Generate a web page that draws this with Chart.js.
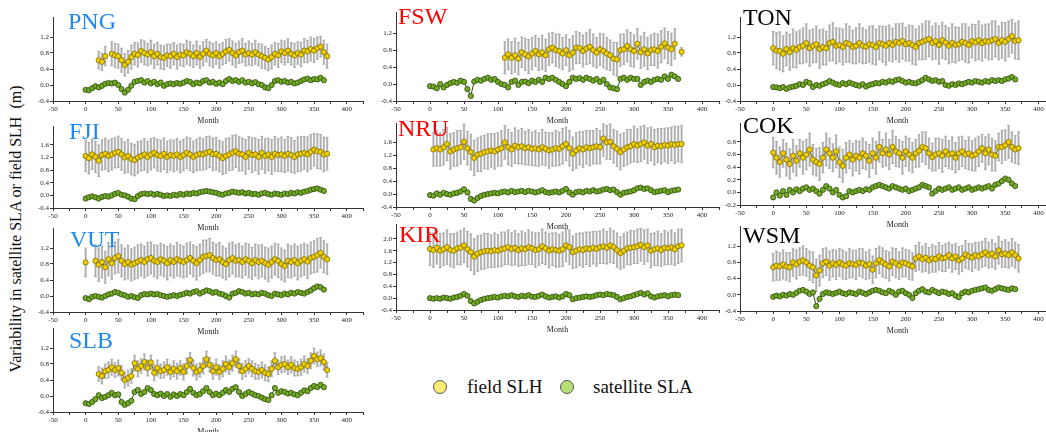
<!DOCTYPE html>
<html>
<head>
<meta charset="utf-8">
<script src="https://cdn.jsdelivr.net/npm/chart.js@4.4.0/dist/chart.umd.min.js"></script>
<style>
  body { margin: 0; background: #fff; }
  #wrap { position: relative; width: 1046px; height: 432px; overflow: hidden; background: #fff; }
  #wrap canvas { position: absolute; }
  .tag { position: absolute; font: 24px/24px 'Liberation Serif', 'Times New Roman', serif; z-index: 2; }
  .ytitle { position: absolute; left: 16px; top: 229px; transform: translate(-50%, -50%) rotate(-90deg);
            font: 16px 'Liberation Serif', 'Times New Roman', serif; white-space: pre; color: #111; }
  .leg { position: absolute; font: 19px/19px 'Liberation Serif', 'Times New Roman', serif; color: #111; }
  .dot { position: absolute; width: 12px; height: 12px; border-radius: 50%; border: 1px solid #555; }
</style>
</head>
<body>
<div id="wrap">
  <div class="ytitle">Variability in satellite SLA or field SLH  (m)</div>
  <div class="dot" style="left:433px; top:380px; background:#ffec70;"></div>
  <div class="leg" style="left:467px; top:377px;">field SLH</div>
  <div class="dot" style="left:560px; top:380px; background:#b8e07a;"></div>
  <div class="leg" style="left:593px; top:377px;">satellite SLA</div>
</div>
<script>
// month index of every sample (one sample every 5 months)
const months = [
  0, 5, 10, 15, 20, 25, 30, 35, 40, 45,
  50, 55, 60, 65, 70, 75, 80, 85, 90, 95,
  100, 105, 110, 115, 120, 125, 130, 135, 140, 145,
  150, 155, 160, 165, 170, 175, 180, 185, 190, 195,
  200, 205, 210, 215, 220, 225, 230, 235, 240, 245,
  250, 255, 260, 265, 270, 275, 280, 285, 290, 295,
  300, 305, 310, 315, 320, 325, 330, 335, 340, 345,
  350, 355, 360, 365, 370
];

// PNG
const pngSLH = [
  null, null, null, null, 0.62, 0.58, 0.72, null, 0.78, 0.74,
  0.72, 0.62, 0.5, 0.58, 0.7, 0.78, 0.75, 0.85, 0.8, 0.76,
  0.82, 0.72, 0.78, 0.7, 0.68, 0.74, 0.72, 0.78, 0.7, 0.76,
  0.74, 0.82, 0.78, 0.72, 0.8, 0.7, 0.78, 0.86, 0.78, 0.74,
  0.8, 0.72, 0.78, 0.84, 0.88, 0.8, 0.74, 0.82, 0.86, 0.76,
  0.8, 0.76, 0.82, 0.76, 0.72, 0.68, 0.64, 0.7, 0.78, 0.74,
  0.84, 0.8, 0.86, 0.78, 0.74, 0.8, 0.76, 0.86, 0.84, 0.9,
  0.86, 0.92, 0.96, 0.82, 0.72
];
const pngErr = [
  0, 0, 0, 0, 0.22, 0.22, 0.24, 0, 0.3, 0.3,
  0.3, 0.3, 0.28, 0.28, 0.3, 0.28, 0.3, 0.28, 0.3, 0.28,
  0.3, 0.3, 0.28, 0.3, 0.3, 0.28, 0.3, 0.28, 0.3, 0.28,
  0.28, 0.3, 0.3, 0.28, 0.3, 0.28, 0.3, 0.28, 0.3, 0.3,
  0.28, 0.3, 0.28, 0.3, 0.28, 0.3, 0.3, 0.28, 0.3, 0.28,
  0.3, 0.28, 0.3, 0.28, 0.3, 0.28, 0.28, 0.3, 0.28, 0.3,
  0.28, 0.3, 0.3, 0.28, 0.3, 0.28, 0.3, 0.3, 0.28, 0.3,
  0.3, 0.28, 0.26, 0.3, 0.3
];
const pngSLA = [
  -0.12, -0.13, -0.08, -0.03, -0.06, -0.02, 0.03, 0.05, 0.04, 0.06,
  0.0, -0.1, -0.19, -0.12, -0.02, 0.08, 0.1, 0.12, 0.06, 0.1,
  0.04, 0.08, 0.02, 0.06, -0.02, 0.02, 0.04, 0.02, 0.05, 0.03,
  0.06, 0.1, 0.08, 0.02, 0.06, 0.04, 0.1, 0.12, 0.06, 0.08,
  0.03, 0.06, 0.02, 0.1, 0.15, 0.1, 0.12, 0.08, 0.12, 0.06,
  0.08, 0.04, 0.07, 0.02, 0.0, -0.06, -0.08, 0.0, 0.1, 0.12,
  0.08, 0.1, 0.06, 0.08, 0.04, 0.06, 0.1, 0.14, 0.16, 0.12,
  0.15, 0.14, 0.18, 0.12, null
];

// FJI
const fjiSLH = [
  1.25, 1.18, 1.3, 1.22, 1.1, 1.28, 1.32, 1.25, 1.3, 1.35,
  1.38, 1.3, 1.2, 1.25, 1.15, 1.12, 1.2, 1.25, 1.3, 1.22,
  1.3, 1.35, 1.28, 1.25, 1.32, 1.22, 1.28, 1.25, 1.3, 1.22,
  1.28, 1.35, 1.3, 1.22, 1.28, 1.32, 1.3, 1.35, 1.38, 1.3,
  1.32, 1.25, 1.18, 1.25, 1.3, 1.35, 1.4, 1.32, 1.3, 1.22,
  1.35, 1.28, 1.3, 1.22, 1.35, 1.25, 1.3, 1.22, 1.32, 1.28,
  1.3, 1.25, 1.32, 1.28, 1.22, 1.3, 1.32, 1.35, 1.3, 1.38,
  1.45, 1.4, 1.38, 1.3, 1.32
];
const fjiErr = [
  0.5, 0.5, 0.48, 0.5, 0.5, 0.48, 0.5, 0.5, 0.5, 0.48,
  0.5, 0.5, 0.5, 0.52, 0.5, 0.5, 0.5, 0.48, 0.5, 0.5,
  0.5, 0.48, 0.5, 0.5, 0.5, 0.5, 0.48, 0.5, 0.5, 0.5,
  0.5, 0.5, 0.52, 0.5, 0.5, 0.52, 0.5, 0.52, 0.5, 0.52,
  0.52, 0.5, 0.52, 0.55, 0.52, 0.55, 0.52, 0.55, 0.52, 0.55,
  0.52, 0.55, 0.52, 0.55, 0.52, 0.55, 0.52, 0.55, 0.55, 0.52,
  0.55, 0.52, 0.55, 0.55, 0.52, 0.55, 0.55, 0.52, 0.55, 0.55,
  0.52, 0.55, 0.55, 0.55, 0.52
];
const fjiSLA = [
  -0.1, -0.06, -0.03, -0.06, -0.1, -0.05, -0.02, -0.04, 0.0, 0.05,
  0.08, 0.02, 0.0, -0.04, -0.1, -0.12, -0.02, 0.04, 0.06, 0.04,
  0.06, 0.02, 0.05, 0.02, -0.02, 0.0, -0.02, 0.02, 0.0, 0.05,
  0.02, 0.06, 0.04, 0.08, 0.06, 0.1, 0.12, 0.14, 0.12, 0.1,
  0.08, 0.04, 0.02, 0.06, 0.08, 0.12, 0.1, 0.08, 0.1, 0.06,
  0.08, 0.04, 0.05, 0.02, 0.06, 0.08, 0.04, 0.02, 0.06, 0.04,
  0.02, 0.06, 0.04, 0.08, 0.06, 0.1, 0.08, 0.12, 0.14, 0.18,
  0.2, 0.22, 0.18, 0.14, null
];

// VUT
const vutSLH = [
  0.84, null, null, 0.88, 0.78, 0.85, 0.72, 0.92, 0.82, 0.95,
  1.0, 0.88, 0.8, 0.85, 0.78, 0.82, 0.86, 0.9, 0.85, 0.92,
  0.95, 0.88, 0.85, 0.92, 0.88, 0.82, 0.9, 0.85, 0.92, 0.88,
  0.85, 0.9, 0.95, 0.88, 0.82, 0.9, 0.98, 1.0, 1.02, 0.95,
  0.9, 0.92, 0.85, 0.8, 0.9, 0.95, 0.88, 0.9, 0.85, 0.92,
  0.88, 0.82, 0.9, 0.85, 0.88, 0.82, 0.78, 0.85, 0.92, 0.88,
  0.8, 0.75, 0.88, 0.85, 0.9, 0.82, 0.88, 0.92, 0.86, 0.95,
  0.98, 1.02, 1.08, 0.98, 0.92
];
const vutErr = [
  0.36, 0, 0, 0.4, 0.42, 0.4, 0.4, 0.42, 0.4, 0.4,
  0.42, 0.4, 0.4, 0.42, 0.4, 0.4, 0.42, 0.4, 0.4, 0.42,
  0.4, 0.4, 0.42, 0.4, 0.4, 0.42, 0.4, 0.4, 0.42, 0.4,
  0.4, 0.42, 0.4, 0.4, 0.42, 0.4, 0.42, 0.4, 0.42, 0.4,
  0.4, 0.42, 0.4, 0.4, 0.42, 0.4, 0.4, 0.42, 0.4, 0.4,
  0.42, 0.4, 0.4, 0.42, 0.4, 0.4, 0.42, 0.4, 0.4, 0.42,
  0.4, 0.4, 0.42, 0.4, 0.4, 0.42, 0.4, 0.4, 0.42, 0.4,
  0.4, 0.42, 0.38, 0.4, 0.38
];
const vutSLA = [
  -0.05, -0.08, -0.02, 0.0, -0.02, -0.04, 0.0, 0.04, 0.06, 0.1,
  0.08, 0.04, 0.02, -0.02, 0.0, -0.03, -0.05, 0.02, 0.05, 0.04,
  0.06, 0.04, 0.05, 0.02, 0.0, -0.02, 0.0, 0.02, 0.0, 0.03,
  0.05, 0.08, 0.06, 0.1, 0.12, 0.06, 0.1, 0.14, 0.12, 0.08,
  0.1, 0.06, 0.04, 0.0, -0.04, 0.06, 0.08, 0.12, 0.1, 0.06,
  0.08, 0.04, 0.06, 0.04, 0.08, 0.06, 0.02, 0.0, 0.06, 0.04,
  0.02, 0.06, 0.04, 0.08, 0.06, 0.1, 0.08, 0.06, 0.1, 0.14,
  0.2, 0.24, 0.22, 0.16, null
];

// SLB
const slbSLH = [
  null, null, null, null, 0.55, 0.5, 0.62, 0.65, 0.72, 0.65,
  0.7, 0.58, 0.4, 0.45, 0.5, 0.82, 0.68, 0.75, 0.85, 0.7,
  0.84, 0.58, 0.7, 0.62, 0.65, 0.72, 0.6, 0.68, 0.62, 0.7,
  0.6, 0.75, 0.9, 0.7, 0.6, 0.65, 0.75, 0.92, 0.78, 0.62,
  0.72, 0.6, 0.68, 0.8, 0.72, 0.82, 0.92, 0.75, 0.62, 0.68,
  0.75, 0.68, 0.62, 0.6, 0.65, 0.58, 0.55, 0.68, 0.88, 0.72,
  0.78, 0.8, 0.72, 0.78, 0.7, 0.68, 0.72, 0.8, 0.75, 0.88,
  1.0, 0.92, 0.95, 0.85, 0.65
];
const slbErr = [
  0, 0, 0, 0, 0.18, 0.2, 0.18, 0.2, 0.2, 0.18,
  0.2, 0.18, 0.2, 0.2, 0.18, 0.2, 0.2, 0.18, 0.2, 0.2,
  0.18, 0.2, 0.2, 0.18, 0.2, 0.2, 0.18, 0.2, 0.2, 0.18,
  0.2, 0.2, 0.18, 0.2, 0.2, 0.18, 0.2, 0.2, 0.18, 0.2,
  0.2, 0.18, 0.2, 0.2, 0.18, 0.2, 0.2, 0.18, 0.2, 0.2,
  0.18, 0.2, 0.2, 0.18, 0.2, 0.2, 0.18, 0.2, 0.2, 0.18,
  0.2, 0.2, 0.18, 0.2, 0.2, 0.18, 0.2, 0.2, 0.18, 0.2,
  0.2, 0.18, 0.2, 0.2, 0.18
];
const slbSLA = [
  -0.18, -0.2, -0.15, -0.08, 0.02, -0.05, -0.02, 0.02, 0.08, 0.02,
  0.04, -0.15, -0.22, -0.18, -0.12, 0.1, 0.15, 0.05, 0.1, 0.2,
  0.15, 0.05, 0.02, 0.06, 0.0, 0.05, -0.02, 0.04, 0.0, 0.05,
  0.02, 0.1, 0.18, 0.08, 0.02, 0.05, 0.12, 0.2, 0.1, 0.02,
  0.06, 0.02, 0.08, 0.15, 0.1, 0.18, 0.22, 0.1, 0.0, 0.05,
  0.1, 0.06, 0.02, 0.0, -0.04, -0.08, -0.1, 0.02, 0.2, 0.08,
  0.12, 0.1, 0.06, 0.08, 0.04, 0.02, 0.08, 0.14, 0.12, 0.2,
  0.25, 0.22, 0.28, 0.22, null
];

// FSW
const fswSLH = [
  null, null, null, null, null, null, null, null, null, null,
  null, null, null, null, null, null, null, null, null, null,
  null, null, 0.62, 0.7, 0.62, 0.68, 0.6, 0.75, 0.7, 0.65,
  0.72, 0.78, 0.7, 0.75, 0.68, 0.82, 0.86, 0.8, 0.78, 0.72,
  0.8, 0.68, 0.74, 0.86, 0.85, 0.78, 0.84, 0.88, 0.8, 0.74,
  0.82, 0.78, 0.72, 0.68, 0.6, 0.58, 0.8, 0.82, 0.9, 0.82,
  0.78, 0.95, 0.75, 0.82, 0.72, 0.8, 0.82, 0.78, 0.88, 0.96,
  0.86, 0.82, 0.95, null, 0.76
];
const fswErr = [
  0, 0, 0, 0, 0, 0, 0, 0, 0, 0,
  0, 0, 0, 0, 0, 0, 0, 0, 0, 0,
  0, 0, 0.38, 0.36, 0.38, 0.4, 0.38, 0.36, 0.38, 0.4,
  0.38, 0.36, 0.38, 0.4, 0.38, 0.38, 0.36, 0.38, 0.4, 0.38,
  0.36, 0.38, 0.4, 0.38, 0.36, 0.38, 0.38, 0.4, 0.38, 0.36,
  0.38, 0.4, 0.38, 0.36, 0.38, 0.4, 0.38, 0.36, 0.38, 0.4,
  0.38, 0.36, 0.38, 0.4, 0.38, 0.36, 0.38, 0.4, 0.38, 0.36,
  0.38, 0.38, 0.36, 0, 0.1
];
const fswSLA = [
  -0.05, -0.06, -0.1, 0.0, -0.08, -0.02, 0.02, 0.05, 0.03, 0.08,
  0.05, -0.12, -0.28, 0.06, 0.1, 0.08, 0.12, 0.15, 0.1, 0.12,
  0.05, 0.0, -0.02, -0.08, 0.05, 0.08, -0.02, 0.05, 0.06, 0.02,
  0.08, 0.05, 0.1, 0.05, 0.15, 0.12, 0.15, 0.1, 0.05, 0.0,
  -0.05, 0.05, 0.15, 0.12, 0.14, 0.1, 0.15, 0.12, 0.08, 0.12,
  0.05, 0.1, 0.0, -0.08, -0.1, -0.12, 0.12, 0.15, 0.1, 0.15,
  0.12, 0.12, -0.02, 0.05, 0.08, 0.05, 0.1, 0.12, 0.1, 0.18,
  0.12, 0.22, 0.18, 0.12, null
];

// NRU
const nruSLH = [
  null, 1.38, 1.42, 1.38, 1.45, 1.55, 1.32, 1.38, 1.42, 1.45,
  1.62, 1.42, 1.3, 1.12, 1.22, 1.25, 1.3, 1.32, 1.35, 1.32,
  1.38, 1.42, 1.6, 1.45, 1.38, 1.5, 1.45, 1.48, 1.42, 1.45,
  1.4, 1.42, 1.38, 1.45, 1.4, 1.35, 1.38, 1.42, 1.4, 1.48,
  1.55, 1.42, 1.25, 1.35, 1.42, 1.38, 1.45, 1.42, 1.45, 1.48,
  1.45, 1.72, 1.6, 1.62, 1.48, 1.4, 1.3, 1.38, 1.45, 1.48,
  1.55, 1.5, 1.55, 1.6, 1.5, 1.55, 1.45, 1.5, 1.48, 1.52,
  1.5, 1.55, 1.52, 1.55, 1.55
];
const nruErr = [
  0, 0.52, 0.55, 0.52, 0.55, 0.52, 0.55, 0.52, 0.55, 0.52,
  0.55, 0.52, 0.55, 0.55, 0.52, 0.55, 0.52, 0.55, 0.52, 0.55,
  0.52, 0.55, 0.52, 0.55, 0.52, 0.55, 0.52, 0.55, 0.52, 0.55,
  0.52, 0.55, 0.52, 0.55, 0.52, 0.55, 0.52, 0.55, 0.52, 0.55,
  0.52, 0.55, 0.52, 0.55, 0.52, 0.55, 0.52, 0.55, 0.52, 0.55,
  0.52, 0.55, 0.52, 0.55, 0.52, 0.55, 0.55, 0.52, 0.55, 0.52,
  0.55, 0.52, 0.55, 0.52, 0.55, 0.52, 0.55, 0.52, 0.55, 0.52,
  0.55, 0.52, 0.58, 0.55, 0.58
];
const nruSLA = [
  -0.03, -0.05, 0.02, -0.02, 0.04, 0.0, -0.02, 0.02, 0.04, 0.08,
  0.15, 0.05, -0.15, -0.2, -0.12, -0.06, -0.02, 0.0, 0.02, 0.04,
  0.02, 0.06, 0.08, 0.05, 0.1, 0.06, 0.08, 0.1, 0.06, 0.1,
  0.08, 0.05, 0.08, 0.12, 0.06, 0.04, 0.06, 0.08, 0.05, 0.1,
  0.16, 0.05, -0.02, 0.06, 0.08, 0.05, 0.1, 0.08, 0.12, 0.08,
  0.1, 0.14, 0.16, 0.12, 0.14, 0.06, -0.02, 0.04, 0.06, 0.08,
  0.12, 0.18, 0.2, 0.16, 0.18, 0.12, 0.06, 0.08, 0.1, 0.12,
  0.06, 0.1, 0.12, 0.14, null
];

// KIR
const kirSLH = [
  1.66, 1.62, 1.7, 1.6, 1.65, 1.72, 1.62, 1.6, 1.68, 1.7,
  1.78, 1.65, 1.55, 1.4, 1.5, 1.55, 1.58, 1.6, 1.58, 1.62,
  1.6, 1.65, 1.68, 1.72, 1.65, 1.7, 1.62, 1.68, 1.65, 1.72,
  1.68, 1.62, 1.65, 1.75, 1.68, 1.6, 1.65, 1.62, 1.6, 1.65,
  1.78, 1.72, 1.55, 1.6, 1.65, 1.62, 1.68, 1.65, 1.7, 1.66,
  1.72, 1.75, 1.7, 1.78, 1.72, 1.62, 1.52, 1.6, 1.68, 1.7,
  1.72, 1.75, 1.8, 1.72, 1.78, 1.6, 1.65, 1.68, 1.62, 1.7,
  1.68, 1.72, 1.65, 1.75, 1.78
];
const kirErr = [
  0.55, 0.58, 0.55, 0.58, 0.55, 0.58, 0.55, 0.58, 0.55, 0.58,
  0.58, 0.6, 0.62, 0.6, 0.6, 0.58, 0.6, 0.58, 0.55, 0.58,
  0.55, 0.58, 0.55, 0.58, 0.55, 0.58, 0.55, 0.58, 0.55, 0.58,
  0.55, 0.58, 0.55, 0.58, 0.55, 0.58, 0.55, 0.58, 0.55, 0.58,
  0.55, 0.58, 0.55, 0.58, 0.55, 0.58, 0.55, 0.58, 0.55, 0.58,
  0.55, 0.58, 0.55, 0.58, 0.55, 0.58, 0.55, 0.58, 0.55, 0.58,
  0.55, 0.58, 0.55, 0.58, 0.55, 0.58, 0.55, 0.58, 0.55, 0.58,
  0.55, 0.58, 0.55, 0.58, 0.55
];
const kirSLA = [
  0.0, -0.02, 0.0, -0.02, 0.02, 0.0, -0.02, 0.02, 0.04, 0.08,
  0.14, 0.08, -0.1, -0.18, -0.12, -0.06, -0.02, 0.0, 0.02, 0.04,
  0.02, 0.06, 0.08, 0.06, 0.1, 0.06, 0.04, 0.08, 0.06, 0.1,
  0.05, 0.04, 0.08, 0.12, 0.06, 0.02, 0.04, 0.06, 0.02, 0.06,
  0.14, 0.1, -0.04, 0.0, 0.02, 0.04, 0.06, 0.04, 0.06, 0.1,
  0.12, 0.1, 0.14, 0.12, 0.1, 0.04, -0.04, 0.0, 0.04, 0.06,
  0.1, 0.14, 0.18, 0.12, 0.16, 0.06, 0.02, 0.06, 0.08, 0.1,
  0.06, 0.1, 0.12, 0.1, null
];

// TON
const tonSLH = [
  0.92, 0.86, 0.85, 0.78, 0.9, 0.82, 0.92, 0.88, 0.95, 0.98,
  1.05, 0.92, 0.98, 1.02, 0.9, 0.95, 0.92, 1.05, 1.08, 0.98,
  1.0, 0.95, 1.05, 1.02, 0.95, 0.98, 1.05, 0.98, 0.96, 1.02,
  1.0, 0.95, 1.05, 1.02, 0.98, 1.05, 1.0, 1.08, 1.05, 1.1,
  1.02, 1.05, 1.0, 0.95, 1.05, 1.08, 1.12, 1.15, 1.05, 1.1,
  1.0, 1.12, 1.06, 0.98, 1.05, 1.0, 1.02, 1.08, 1.05, 1.0,
  1.1, 1.06, 1.12, 1.05, 1.1, 1.08, 1.12, 1.15, 1.05, 1.12,
  1.08, 1.15, 1.22, 1.1, 1.12
];
const tonErr = [
  0.42, 0.45, 0.48, 0.45, 0.42, 0.45, 0.48, 0.45, 0.42, 0.45,
  0.48, 0.45, 0.42, 0.45, 0.48, 0.45, 0.42, 0.45, 0.48, 0.45,
  0.42, 0.45, 0.48, 0.45, 0.42, 0.45, 0.48, 0.45, 0.42, 0.45,
  0.48, 0.45, 0.42, 0.45, 0.48, 0.45, 0.42, 0.45, 0.48, 0.45,
  0.42, 0.45, 0.48, 0.45, 0.42, 0.45, 0.48, 0.45, 0.42, 0.45,
  0.48, 0.45, 0.42, 0.45, 0.48, 0.45, 0.42, 0.45, 0.48, 0.45,
  0.42, 0.45, 0.48, 0.45, 0.42, 0.45, 0.48, 0.45, 0.42, 0.45,
  0.48, 0.45, 0.42, 0.45, 0.48
];
const tonSLA = [
  -0.05, -0.06, -0.08, -0.05, -0.1, -0.06, -0.04, -0.02, 0.02, 0.0,
  0.08, 0.05, -0.05, 0.0, -0.02, 0.02, 0.05, 0.1, 0.06, 0.02,
  0.0, 0.05, 0.02, 0.06, 0.03, 0.0, -0.02, 0.02, -0.04, 0.0,
  0.02, 0.05, 0.04, 0.08, 0.06, 0.1, 0.08, 0.12, 0.14, 0.1,
  0.06, 0.08, 0.05, 0.04, 0.08, 0.12, 0.18, 0.14, 0.1, 0.12,
  0.08, 0.1, 0.0, -0.02, 0.02, 0.0, 0.04, 0.02, 0.05, 0.08,
  0.06, 0.1, 0.08, 0.06, 0.1, 0.08, 0.12, 0.1, 0.12, 0.1,
  0.14, 0.16, 0.2, 0.14, null
];

// COK
const cokSLH = [
  0.63, 0.55, 0.48, 0.62, 0.52, 0.45, 0.58, 0.5, 0.62, 0.55,
  0.6, 0.68, 0.52, 0.48, 0.45, 0.55, 0.68, 0.62, 0.55, 0.65,
  0.48, 0.42, 0.55, 0.6, 0.52, 0.58, 0.55, 0.62, 0.58, 0.5,
  0.62, 0.55, 0.72, 0.62, 0.68, 0.6, 0.72, 0.65, 0.62, 0.55,
  0.65, 0.6, 0.55, 0.62, 0.66, 0.72, 0.7, 0.62, 0.56, 0.6,
  0.62, 0.58, 0.65, 0.6, 0.62, 0.55, 0.62, 0.65, 0.6, 0.62,
  0.58, 0.6, 0.65, 0.7, 0.62, 0.68, 0.6, 0.58, 0.72, 0.72,
  0.75, 0.8, 0.72, 0.68, 0.7
];
const cokErr = [
  0.24, 0.26, 0.24, 0.22, 0.26, 0.24, 0.26, 0.24, 0.22, 0.26,
  0.24, 0.26, 0.24, 0.22, 0.26, 0.24, 0.26, 0.24, 0.22, 0.26,
  0.24, 0.26, 0.24, 0.22, 0.26, 0.24, 0.26, 0.24, 0.22, 0.26,
  0.24, 0.26, 0.24, 0.22, 0.26, 0.24, 0.26, 0.24, 0.22, 0.26,
  0.24, 0.26, 0.24, 0.22, 0.26, 0.24, 0.26, 0.24, 0.22, 0.26,
  0.24, 0.26, 0.24, 0.22, 0.26, 0.24, 0.26, 0.24, 0.22, 0.26,
  0.24, 0.26, 0.24, 0.22, 0.26, 0.24, 0.26, 0.24, 0.22, 0.26,
  0.24, 0.26, 0.24, 0.22, 0.26
];
const cokSLA = [
  -0.08, 0.0, -0.05, 0.02, -0.04, 0.04, 0.0, 0.05, 0.02, 0.06,
  0.08, 0.04, 0.06, 0.02, -0.02, 0.04, 0.1, 0.06, 0.0, 0.04,
  -0.04, -0.08, -0.06, 0.02, 0.0, 0.02, 0.04, 0.02, 0.05, 0.04,
  0.08, 0.1, 0.12, 0.1, 0.08, 0.06, 0.1, 0.08, 0.06, 0.04,
  0.06, 0.02, 0.04, 0.06, 0.08, 0.12, 0.1, 0.08, -0.02, 0.02,
  0.06, 0.04, 0.06, 0.08, 0.04, 0.06, 0.08, 0.04, 0.06, 0.08,
  0.04, 0.06, 0.08, 0.06, 0.08, 0.1, 0.06, 0.12, 0.14, 0.18,
  0.22, 0.2, 0.14, 0.1, null
];

// WSM
const wsmSLH = [
  0.68, 0.72, 0.7, 0.75, 0.7, 0.68, 0.8, 0.75, 0.82, 0.85,
  0.8, 0.72, 0.68, 0.48, 0.6, 0.78, 0.82, 0.72, 0.78, 0.74,
  0.8, 0.75, 0.72, 0.78, 0.76, 0.74, 0.8, 0.78, 0.72, 0.76,
  0.62, 0.78, 0.86, 0.8, 0.75, 0.7, 0.82, 0.78, 0.72, 0.8,
  0.78, 0.74, 0.7, 0.9, 0.95, 0.88, 0.92, 0.85, 0.9, 0.88,
  0.95, 0.9, 0.92, 0.98, 0.9, 0.95, 0.85, 0.9, 1.0, 0.95,
  0.92, 0.98, 0.95, 1.0, 1.05, 0.98, 1.02, 0.95, 1.1, 1.0,
  1.02, 0.98, 1.05, 0.98, 0.9
];
const wsmErr = [
  0.34, 0.36, 0.34, 0.36, 0.34, 0.36, 0.34, 0.36, 0.34, 0.36,
  0.34, 0.36, 0.38, 0.4, 0.38, 0.36, 0.34, 0.36, 0.34, 0.36,
  0.34, 0.36, 0.34, 0.36, 0.34, 0.36, 0.34, 0.36, 0.34, 0.36,
  0.34, 0.36, 0.34, 0.36, 0.34, 0.36, 0.34, 0.36, 0.34, 0.36,
  0.34, 0.36, 0.34, 0.32, 0.34, 0.32, 0.34, 0.32, 0.34, 0.32,
  0.34, 0.32, 0.34, 0.32, 0.34, 0.32, 0.34, 0.32, 0.34, 0.32,
  0.34, 0.32, 0.34, 0.32, 0.34, 0.32, 0.34, 0.32, 0.34, 0.32,
  0.34, 0.32, 0.34, 0.32, 0.34
];
const wsmSLA = [
  -0.05, -0.02, -0.04, 0.0, -0.02, 0.02, 0.0, 0.05, 0.1, 0.12,
  0.08, 0.02, 0.06, -0.28, -0.1, 0.02, 0.06, 0.04, 0.02, 0.05,
  0.08, 0.04, 0.02, 0.06, 0.04, 0.02, 0.08, 0.05, 0.02, 0.06,
  0.1, 0.12, 0.1, 0.06, 0.04, 0.1, 0.06, 0.0, 0.08, 0.1,
  0.04, 0.0, -0.08, 0.04, 0.1, 0.14, 0.08, 0.06, 0.12, 0.08,
  0.04, 0.08, 0.06, 0.02, 0.04, -0.02, -0.06, 0.04, 0.08, 0.06,
  0.1, 0.12, 0.14, 0.16, 0.18, 0.12, 0.1, 0.14, 0.18, 0.16,
  0.14, 0.12, 0.16, 0.14, null
];

// panel placement (canvas box in page pixels) and y range
const BLUE = '#1e88f0', RED = '#ff0000', BLACK = '#000';
const panels = [
  { name: 'PNG', color: BLUE,  slh: pngSLH, err: pngErr, sla: pngSLA, ymin: -0.4, ymax: 1.7, step: 0.4, box: [23, 9, 346, 117],   tag: [68, 9] },
  { name: 'FJI', color: BLUE,  slh: fjiSLH, err: fjiErr, sla: fjiSLA, ymin: -0.4, ymax: 2.2, step: 0.4, box: [23, 118, 346, 115], tag: [69, 119] },
  { name: 'VUT', color: BLUE,  slh: vutSLH, err: vutErr, sla: vutSLA, ymin: -0.4, ymax: 1.7, step: 0.4, box: [23, 220, 346, 117], tag: [70, 227] },
  { name: 'SLB', color: BLUE,  slh: slbSLH, err: slbErr, sla: slbSLA, ymin: -0.4, ymax: 1.7, step: 0.4, box: [23, 320, 346, 117], tag: [69, 328] },
  { name: 'FSW', color: RED,   slh: fswSLH, err: fswErr, sla: fswSLA, ymin: -0.4, ymax: 1.7, step: 0.4, box: [366, 4, 359, 122],  tag: [398, 4] },
  { name: 'NRU', color: RED,   slh: nruSLH, err: nruErr, sla: nruSLA, ymin: -0.4, ymax: 2.2, step: 0.4, box: [366, 115, 359, 117], tag: [398, 116] },
  { name: 'KIR', color: RED,   slh: kirSLH, err: kirErr, sla: kirSLA, ymin: -0.4, ymax: 2.5, step: 0.4, box: [366, 216, 359, 119], tag: [399, 222] },
  { name: 'TON', color: BLACK, slh: tonSLH, err: tonErr, sla: tonSLA, ymin: -0.4, ymax: 1.7, step: 0.4, box: [710, 9, 351, 117],  tag: [743, 5] },
  { name: 'COK', color: BLACK, slh: cokSLH, err: cokErr, sla: cokSLA, ymin: -0.2, ymax: 1.1, step: 0.2, box: [710, 115, 351, 115], tag: [743, 113] },
  { name: 'WSM', color: BLACK, slh: wsmSLH, err: wsmErr, sla: wsmSLA, ymin: -0.4, ymax: 1.7, step: 0.4, box: [710, 218, 351, 118], tag: [743, 223] }
];

// grey error bars, drawn under the markers
const errorBars = {
  id: 'errorBars',
  beforeDatasetsDraw(chart) {
    const ctx = chart.ctx;
    const xs = chart.scales.x, ys = chart.scales.y;
    const a = chart.chartArea;
    ctx.save();
    ctx.beginPath();
    ctx.rect(a.left, a.top, a.right - a.left, a.bottom - a.top);
    ctx.clip();
    chart.data.datasets.forEach(ds => {
      if (!ds.errors) return;
      ds.data.forEach((p, i) => {
        const e = ds.errors[i];
        if (p.y == null || !e) return;
        const x = xs.getPixelForValue(p.x);
        const y1 = ys.getPixelForValue(p.y + e);
        const y2 = ys.getPixelForValue(p.y - e);
        ctx.strokeStyle = '#c6c6c6';
        ctx.lineWidth = 2.2;
        ctx.beginPath();
        ctx.moveTo(x, y1); ctx.lineTo(x, y2);
        ctx.stroke();
        ctx.strokeStyle = '#a2a2a2';
        ctx.lineWidth = 0.8;
        ctx.beginPath();
        ctx.moveTo(x, y1); ctx.lineTo(x, y2);
        ctx.moveTo(x - 1.5, y1); ctx.lineTo(x + 1.5, y1);
        ctx.moveTo(x - 1.5, y2); ctx.lineTo(x + 1.5, y2);
        ctx.stroke();
      });
    });
    ctx.restore();
  }
};

const tickFont = { family: "'Liberation Serif', 'Times New Roman', serif", size: 7 };
const wrap = document.getElementById('wrap');

panels.forEach(p => {
  const cv = document.createElement('canvas');
  cv.width = p.box[2];
  cv.height = p.box[3];
  cv.style.left = p.box[0] + 'px';
  cv.style.top = p.box[1] + 'px';
  wrap.appendChild(cv);

  const tag = document.createElement('div');
  tag.className = 'tag';
  tag.textContent = p.name;
  tag.style.left = p.tag[0] + 'px';
  tag.style.top = p.tag[1] + 'px';
  tag.style.color = p.color;
  wrap.appendChild(tag);

  new Chart(cv, {
    type: 'scatter',
    data: {
      datasets: [
        {
          label: 'satellite SLA',
          data: months.map((m, i) => ({ x: m, y: p.sla[i] })),
          showLine: true,
          borderColor: '#2f4c10',
          borderWidth: 1,
          pointRadius: 2.6,
          pointBackgroundColor: '#74ac26',
          pointBorderColor: '#2c480c',
          pointBorderWidth: 0.8
        },
        {
          label: 'field SLH',
          data: months.map((m, i) => ({ x: m, y: p.slh[i] })),
          errors: p.err,
          showLine: true,
          borderColor: '#6e6000',
          borderWidth: 1,
          pointRadius: 2.6,
          pointBackgroundColor: '#f0d000',
          pointBorderColor: '#7a6a00',
          pointBorderWidth: 0.8
        }
      ]
    },
    options: {
      responsive: false,
      animation: false,
      devicePixelRatio: 1,
      layout: { padding: { top: 8, right: 6, left: 0, bottom: 0 } },
      plugins: { legend: { display: false }, tooltip: { enabled: false } },
      events: [],
      scales: {
        x: {
          type: 'linear',
          min: -50,
          max: 425,
          afterFit: s => { s.height = 25; },
          ticks: {
            stepSize: 25,
            autoSkip: false,
            maxRotation: 0,
            padding: 1,
            color: '#222',
            font: tickFont,
            callback: v => (v % 50 === 0 ? v : '')
          },
          grid: { drawOnChartArea: false, tickLength: 3, color: '#333' },
          border: { color: '#333', width: 1 },
          title: {
            display: true,
            text: 'Month',
            color: '#222',
            font: { family: "'Liberation Serif', 'Times New Roman', serif", size: 8 },
            padding: { top: 0, bottom: 0 }
          }
        },
        y: {
          min: p.ymin,
          max: p.ymax,
          afterFit: s => { s.width = 30; },
          afterBuildTicks: s => {
            s.ticks = s.ticks.filter(t => Math.abs(t.value / p.step - Math.round(t.value / p.step)) < 1e-6);
          },
          ticks: {
            stepSize: p.step,
            padding: 1,
            color: '#222',
            font: tickFont,
            callback: v => v.toFixed(1)
          },
          grid: { drawOnChartArea: false, tickLength: 3, color: '#333' },
          border: { color: '#333', width: 1 }
        }
      }
    },
    plugins: [errorBars]
  });
});
</script>
</body>
</html>
